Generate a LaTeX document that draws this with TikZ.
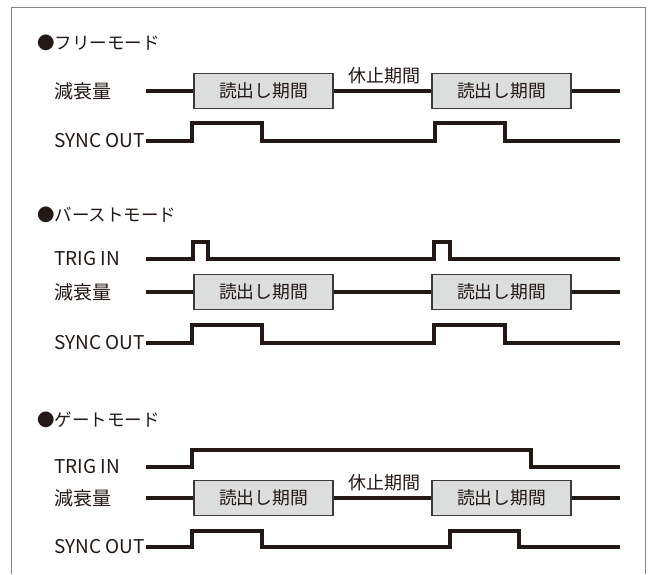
\documentclass[tikz,border=0pt]{standalone}
\usepackage{fontspec}
\setmainfont{Noto Sans CJK JP}
\definecolor{ink}{HTML}{231815}
\definecolor{boxfill}{HTML}{DCDDDD}
\definecolor{boxline}{HTML}{3E3A39}
\definecolor{framec}{HTML}{858585}
\tikzset{
  sig/.style={draw=ink, line width=4.3pt, line join=miter},
  readbox/.style={draw=boxline, fill=boxfill, line width=1.8pt, minimum width=139pt, minimum height=35pt, inner sep=0pt, font=\fontsize{17.8}{20}\selectfont, text=ink},
  lbl/.style={anchor=west, inner sep=0pt, font=\fontsize{19}{22}\selectfont, text=ink},
  ttl/.style={anchor=west, inner sep=0pt, font=\fontsize{17.5}{20}\selectfont, text=ink},
  rest/.style={inner sep=0pt, font=\fontsize{18}{20}\selectfont, text=ink},
  frame/.style={draw=framec, line width=1.5pt},
}
\begin{document}
\begin{tikzpicture}[x=1pt,y=-1pt]
\useasboundingbox (0,0) rectangle (651,574);
\fill[white] (0,0) rectangle (651,574);
% frame
\coordinate (fbl) at (11.5,574);
\coordinate (ftl) at (11.5,7.5);
\coordinate (ftr) at (645.5,7.5);
\coordinate (fbr) at (645.5,574);
\draw[frame] (fbl) -- (ftl) -- (ftr) -- (fbr);

% ---------- Section 1: free mode ----------
\node[ttl] (t1) at (37,43) {●フリーモード};
\node[lbl] (a1l) at (54,91) {減衰量};
\node[lbl] (s1l) at (54,141) {SYNC OUT};
\coordinate (a1s) at (146,91);
\coordinate (a1e) at (620,91);
\node[readbox] (a1b1) at (263.5,91) {読出し期間};
\node[readbox] (a1b2) at (501.5,91) {読出し期間};
\draw[sig] (a1s) -- (a1b1.west);
\draw[sig] (a1b1.east) -- (a1b2.west);
\draw[sig] (a1b2.east) -- (a1e);
\node[rest] (r1) at (384,76) {休止期間};
\coordinate (s1s) at (146,141);
\coordinate (s1e) at (620,141);
\draw[sig] (s1s) -- (192,141) -- (192,123) -- (262,123) -- (262,141) -- (435,141) -- (435,123) -- (505,123) -- (505,141) -- (s1e);

% ---------- Section 2: burst mode ----------
\node[ttl] (t2) at (37,215) {●バーストモード};
\node[lbl] (g2l) at (54,259) {TRIG IN};
\node[lbl] (a2l) at (54,292) {減衰量};
\node[lbl] (s2l) at (54,343) {SYNC OUT};
\coordinate (g2s) at (146,259);
\coordinate (g2e) at (620,259);
\draw[sig] (g2s) -- (193,259) -- (193,242) -- (208,242) -- (208,259) -- (434,259) -- (434,242) -- (450,242) -- (450,259) -- (g2e);
\coordinate (a2s) at (146,292);
\coordinate (a2e) at (620,292);
\node[readbox] (a2b1) at (263.5,292) {読出し期間};
\node[readbox] (a2b2) at (501.5,292) {読出し期間};
\draw[sig] (a2s) -- (a2b1.west);
\draw[sig] (a2b1.east) -- (a2b2.west);
\draw[sig] (a2b2.east) -- (a2e);
\coordinate (s2s) at (146,343);
\coordinate (s2e) at (620,343);
\draw[sig] (s2s) -- (192,343) -- (192,325) -- (262,325) -- (262,343) -- (434,343) -- (434,325) -- (505,325) -- (505,343) -- (s2e);

% ---------- Section 3: gate mode ----------
\node[ttl] (t3) at (37,420) {●ゲートモード};
\node[lbl] (g3l) at (54,467) {TRIG IN};
\node[lbl] (a3l) at (54,498) {減衰量};
\node[lbl] (s3l) at (54,547) {SYNC OUT};
\coordinate (g3s) at (146,467);
\coordinate (g3e) at (620,467);
\draw[sig] (g3s) -- (192,467) -- (192,450) -- (531,450) -- (531,467) -- (g3e);
\coordinate (a3s) at (146,498);
\coordinate (a3e) at (620,498);
\node[readbox] (a3b1) at (263.5,498) {読出し期間};
\node[readbox] (a3b2) at (501.5,498) {読出し期間};
\draw[sig] (a3s) -- (a3b1.west);
\draw[sig] (a3b1.east) -- (a3b2.west);
\draw[sig] (a3b2.east) -- (a3e);
\node[rest] (r3) at (384,483) {休止期間};
\coordinate (s3s) at (146,547);
\coordinate (s3e) at (620,547);
\draw[sig] (s3s) -- (192,547) -- (192,531) -- (262,531) -- (262,547) -- (450,547) -- (450,531) -- (519,531) -- (519,547) -- (s3e);
\end{tikzpicture}
\end{document}
